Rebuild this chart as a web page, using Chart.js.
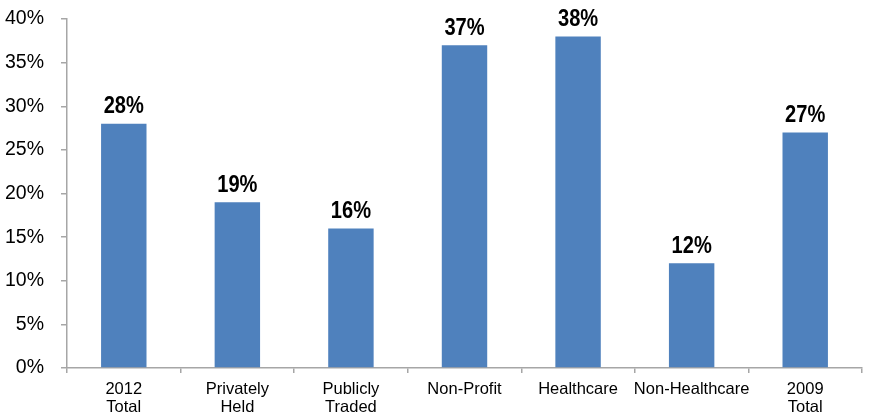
<!DOCTYPE html>
<html>
<head>
<meta charset="utf-8">
<script src="https://cdn.jsdelivr.net/npm/chart.js@4.4.1/dist/chart.umd.min.js"></script>
<style>
  html, body { margin: 0; padding: 0; background: #fff; }
  #wrap { width: 870px; height: 417px; position: relative; }
</style>
</head>
<body>
<div id="wrap"><canvas id="chart"></canvas></div>
<script>
const categories = [['2012', 'Total'], ['Privately', 'Held'], ['Publicly', 'Traded'], 'Non-Profit', 'Healthcare', 'Non-Healthcare', ['2009', 'Total']];
const values = [28, 19, 16, 37, 38, 12, 27];
const yTicks = [0, 5, 10, 15, 20, 25, 30, 35, 40];

const FONT = '"Liberation Sans", Arial, sans-serif';
const AXIS_COLOR = '#a6a6a6';

// bold condensed-looking labels above each bar
const barLabels = {
    id: 'barLabels',
    afterDatasetsDraw(chart) {
        const ctx = chart.ctx;
        const meta = chart.getDatasetMeta(0);
        const squeeze = 0.82;
        ctx.save();
        ctx.font = 'bold 24.5px ' + FONT;
        ctx.fillStyle = '#000';
        ctx.textAlign = 'center';
        ctx.textBaseline = 'alphabetic';
        meta.data.forEach((bar, i) => {
            ctx.save();
            ctx.translate(bar.x, bar.y - 10.5);
            ctx.scale(squeeze, 1);
            ctx.fillText(values[i] + '%', 0, 0);
            ctx.restore();
        });
        ctx.restore();
    }
};

function noPad(s) {
    s.paddingTop = 0; s.paddingBottom = 0; s.paddingLeft = 0; s.paddingRight = 0;
}

new Chart(document.getElementById('chart'), {
    type: 'bar',
    data: {
        labels: categories,
        datasets: [{
            data: values,
            backgroundColor: '#4f81bd',
            barPercentage: 0.4,
            categoryPercentage: 1
        }]
    },
    options: {
        responsive: true, maintainAspectRatio: false, animation: false,
        layout: { padding: { top: 19, right: 8, left: 0, bottom: 0 } },
        plugins: { legend: { display: false }, tooltip: { enabled: false } },
        scales: {
            x: {
                grid: { drawOnChartArea: false, drawTicks: true, tickLength: 5, color: AXIS_COLOR, lineWidth: 1.5 },
                border: { color: AXIS_COLOR, width: 1.5 },
                ticks: { color: '#000', font: { family: FONT, size: 16.5, lineHeight: 1.1 }, padding: 7, maxRotation: 0, autoSkip: false },
                afterFit: s => { s.height = 49; noPad(s); }
            },
            y: {
                min: 0, max: 40,
                afterBuildTicks: s => { s.ticks = yTicks.map(v => ({ value: v })); },
                grid: { drawOnChartArea: false, drawTicks: true, tickLength: 6, color: AXIS_COLOR, lineWidth: 1.5 },
                border: { color: AXIS_COLOR, width: 1.5 },
                ticks: { color: '#000', font: { family: FONT, size: 19.5 }, padding: 17, callback: v => v + '%' },
                afterFit: s => { s.width = 67; noPad(s); }
            }
        }
    },
    plugins: [barLabels]
});
</script>
</body>
</html>
